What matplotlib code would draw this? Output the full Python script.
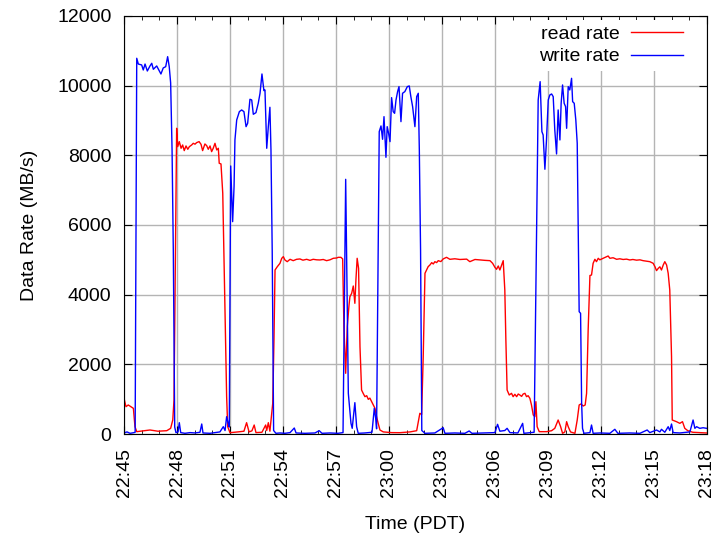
import matplotlib
matplotlib.use("Agg")
import matplotlib.pyplot as plt
from matplotlib.ticker import MultipleLocator

plt.rcParams['font.family'] = ['Liberation Sans', 'DejaVu Sans']

# minutes after 22:45
read_t = [0.00, 0.11, 0.24, 0.38, 0.53, 0.62, 0.72, 1.08, 1.47, 1.92, 2.42, 2.64, 2.76, 2.83,
          2.98, 3.04, 3.13, 3.23, 3.32, 3.41, 3.51, 3.61, 3.70, 3.83, 3.92, 4.02, 4.11, 4.25,
          4.36, 4.45, 4.58, 4.68, 4.77, 4.87, 4.96, 5.05, 5.15, 5.25, 5.34, 5.39, 5.49, 5.59,
          5.81, 5.87, 6.00, 6.45, 6.79, 6.94, 7.08, 7.24, 7.37, 7.47, 7.81, 8.02, 8.08, 8.17,
          8.26, 8.42, 8.49, 8.55, 8.68, 8.83, 8.93, 9.02, 9.11, 9.24, 9.40, 9.58, 9.77, 9.96,
          10.13, 10.34, 10.53, 10.71, 10.91, 11.09, 11.28, 11.47, 11.66, 11.85, 12.04, 12.13,
          12.28, 12.38, 12.45, 12.55, 12.64, 12.74, 12.79, 12.89, 12.98, 13.07, 13.13, 13.20,
          13.28, 13.36, 13.45, 13.54, 13.64, 13.74, 13.83, 13.92, 14.02, 14.11, 14.21, 14.30,
          14.39, 14.49, 14.68, 15.15, 15.62, 16.19, 16.57, 16.75, 16.85, 16.94, 17.04, 17.13,
          17.22, 17.32, 17.42, 17.51, 17.60, 17.70, 17.79, 17.94, 18.07, 18.26, 18.45, 18.73,
          19.02, 19.40, 19.58, 19.87, 20.15, 20.43, 20.72, 20.87, 21.00, 21.09, 21.19, 21.28,
          21.38, 21.47, 21.56, 21.62, 21.69, 21.81, 21.94, 22.03, 22.13, 22.23, 22.32, 22.41,
          22.51, 22.60, 22.70, 22.79, 22.88, 22.98, 23.07, 23.17, 23.26, 23.32, 23.39, 23.51,
          23.92, 24.21, 24.39, 24.58, 24.72, 24.83, 24.96, 25.06, 25.15, 25.28, 25.53, 25.66,
          25.77, 25.87, 26.00, 26.11, 26.19, 26.28, 26.38, 26.47, 26.56, 26.66, 26.75, 26.85,
          26.94, 27.13, 27.32, 27.41, 27.51, 27.69, 27.89, 28.07, 28.26, 28.45, 28.64, 28.81,
          29.02, 29.21, 29.39, 29.58, 29.77, 29.96, 30.06, 30.15, 30.25, 30.34, 30.43, 30.53,
          30.62, 30.72, 30.81, 30.90, 31.00, 31.04, 31.28, 31.47, 31.62, 31.75, 31.92, 32.20,
          32.60, 32.98]
read_rate = [1024, 785, 833, 785, 737, 210, 67, 90, 115, 80, 95, 163, 402, 976,
             8776, 8249, 8393, 8202, 8297, 8135, 8269, 8173, 8249, 8297, 8345, 8320, 8364, 8393,
             8316, 8135, 8326, 8278, 8173, 8269, 8106, 8202, 8345, 8154, 8202, 7772, 7752, 6910,
             1072, 210, 38, 60, 80, 325, 60, 90, 258, 40, 50, 258, 100, 325,
             80, 880, 2700, 4708, 4804, 4900, 5044, 5091, 4996, 4947, 5015, 4976, 5015, 5025,
             4990, 5015, 4985, 5015, 5000, 4996, 5010, 4976, 5000, 5044, 5053, 5072,
             5072, 5025, 3081, 1743, 3081, 3704, 3942, 4039, 4249, 3752, 4421, 5044,
             4756, 2506, 1263, 1168, 1072, 1100, 995, 1030, 928, 833, 737, 497,
             306, 115, 60, 40, 38, 60, 95, 594, 560, 2220, 4613, 4708,
             4804, 4852, 4919, 4881, 4947, 4920, 4976, 4950, 5025, 5072, 5015, 5030,
             5010, 5020, 4947, 5010, 4996, 4985, 4976, 4900, 4785, 4728, 4823, 4708,
             4852, 4976, 4134, 2700, 1263, 1120, 1168, 1072, 1140, 1072, 1148, 1120,
             1080, 1148, 1168, 1072, 1100, 1024, 833, 546, 497, 928, 210, 67,
             67, 95, 163, 402, 210, 20, 60, 354, 210, 60, 20, 402,
             833, 862, 804, 833, 1168, 3000, 4550, 4565, 4900, 5015, 4947, 5044,
             5000, 5044, 5091, 5110, 5044, 5060, 5015, 5030, 5010, 5020, 4996, 5010,
             4990, 5000, 4976, 4960, 4947, 4900, 4804, 4690, 4756, 4800, 4708, 4852,
             4947, 4852, 4613, 4134, 2220, 402, 354, 306, 354, 163, 95, 50,
             40, 30]

write_t = [0.00, 0.17, 0.34, 0.57, 0.63, 0.72, 0.81, 1.00, 1.09, 1.19, 1.32, 1.47, 1.57, 1.66,
           1.85, 2.00, 2.09, 2.22, 2.36, 2.47, 2.56, 2.64, 2.72, 2.79, 2.87, 2.94, 3.06, 3.13,
           3.21, 3.45, 3.74, 4.02, 4.30, 4.40, 4.47, 4.87, 5.15, 5.43, 5.62, 5.72, 5.81, 5.90,
           5.96, 6.04, 6.15, 6.23, 6.28, 6.38, 6.53, 6.66, 6.79, 6.91, 7.00, 7.13, 7.23, 7.32,
           7.47, 7.60, 7.70, 7.81, 7.92, 7.98, 8.08, 8.17, 8.26, 8.32, 8.39, 8.47, 8.60, 8.83,
           9.11, 9.40, 9.64, 9.74, 10.24, 10.81, 11.05, 11.21, 11.66, 12.11, 12.40, 12.55,
           12.70, 12.85, 12.92, 13.07, 13.17, 13.26, 13.64, 14.04, 14.17, 14.25, 14.30, 14.45,
           14.55, 14.64, 14.72, 14.83, 14.90, 14.98, 15.06, 15.15, 15.24, 15.32, 15.40, 15.49,
           15.57, 15.68, 15.77, 15.90, 16.04, 16.15, 16.24, 16.34, 16.47, 16.57, 16.66, 16.72,
           16.79, 16.86, 17.04, 17.60, 18.07, 18.17, 18.73, 19.30, 19.54, 19.70, 20.43, 21.00,
           21.15, 21.28, 21.56, 21.69, 21.85, 22.30, 22.57, 22.64, 23.22, 23.45, 23.56, 23.66,
           23.73, 23.83, 23.92, 24.02, 24.11, 24.21, 24.30, 24.39, 24.49, 24.58, 24.68, 24.75,
           24.83, 24.92, 25.00, 25.06, 25.15, 25.24, 25.34, 25.40, 25.49, 25.58, 25.66, 25.77,
           25.85, 25.91, 25.96, 26.04, 26.38, 26.47, 26.56, 26.94, 27.51, 27.79, 27.96, 28.64,
           29.21, 29.62, 29.77, 30.15, 30.34, 30.43, 30.62, 30.81, 30.90, 31.00, 31.09, 31.47,
           32.04, 32.22, 32.32, 32.42, 32.60, 32.79, 32.98]
write_rate = [30, 60, 20, 40, 50, 10786, 10620, 10594, 10450, 10620, 10421, 10565, 10642, 10470,
              10565, 10421, 10335, 10508, 10545, 10832, 10545, 10077, 8154, 5283, 200, 40, 60, 325,
              40, 20, 40, 30, 50, 287, 30, 20, 40, 60, 210, 100, 497, 300,
              200, 7694, 6096, 7100, 8441, 9015, 9254, 9302, 9254, 8823, 8920, 9609, 9589, 9178,
              9225, 9494, 9781, 10335, 9857, 9876, 8202, 8823, 9379, 8154, 5283, 100, 20, 30,
              20, 40, 172, 30, 20, 30, 95, 20, 30, 20, 40, 7311,
              1168, 306, 163, 900, 210, 20, 30, 50, 737, 450, 150, 8680,
              8843, 8460, 9110, 7943, 8823, 8632, 8393, 9656, 9254, 9206, 9589, 9829,
              9972, 8967, 9781, 9829, 9972, 9991, 9685, 9398, 8823, 9685, 9781, 8154,
              5283, 100, 20, 30, 180, 20, 30, 20, 86, 20, 30, 40,
              278, 80, 100, 163, 40, 30, 306, 20, 50, 9589, 10115, 8680,
              8584, 7600, 8441, 9589, 9733, 9761, 9685, 8728, 8039, 9302, 8441, 9494,
              10020, 9494, 9398, 8776, 9972, 9876, 10211, 9541, 9494, 9015, 8345, 3512,
              3464, 880, 163, 20, 40, 258, 20, 30, 20, 135, 20, 30,
              20, 115, 40, 115, 60, 135, 50, 210, 100, 287, 40, 30,
              60, 402, 163, 210, 163, 180, 163]

tick_pos = [0, 3, 6, 9, 12, 15, 18, 21, 24, 27, 30, 33]
tick_labels = ["22:45", "22:48", "22:51", "22:54", "22:57", "23:00",
               "23:03", "23:06", "23:09", "23:12", "23:15", "23:18"]

fig = plt.figure(figsize=(7.14, 5.38), dpi=100)
ax = fig.add_axes([0.1737, 0.1933, 0.8163, 0.777])

ax.plot(read_t, read_rate, color='#ff0000', lw=1.0, label='read rate')
ax.plot(write_t, write_rate, color='#0000ff', lw=1.0, label='write rate')

ax.set_xlim(0, 33)
ax.set_ylim(0, 12000)
ax.set_xticks(tick_pos)
ax.set_xticklabels(tick_labels, rotation=90, fontsize=14)
ax.xaxis.set_minor_locator(MultipleLocator(1))
ax.set_yticks(range(0, 12001, 2000))
ax.tick_params(axis='y', labelsize=14, pad=9)
ax.tick_params(axis='x', pad=10)
ax.tick_params(which='both', direction='in', top=True, right=True)
ax.tick_params(which='major', length=6)
ax.tick_params(which='minor', length=3)
ax.grid(True, which='major', color='#b4b4b4', lw=1.0)
ax.set_axisbelow(True)

ax.set_xlabel("Time (PDT)", fontsize=14, labelpad=14)
ax.set_ylabel("Data Rate (MB/s)", fontsize=14, labelpad=14)

leg = ax.legend(loc='upper right', bbox_to_anchor=(0.983, 1.01), markerfirst=False,
                fontsize=14, frameon=True, fancybox=False, edgecolor='none',
                framealpha=1.0, handlelength=2.7, handletextpad=0.55,
                labelspacing=0.25, borderaxespad=0.4, borderpad=0.3)

fig.savefig("out.png", dpi=100)
